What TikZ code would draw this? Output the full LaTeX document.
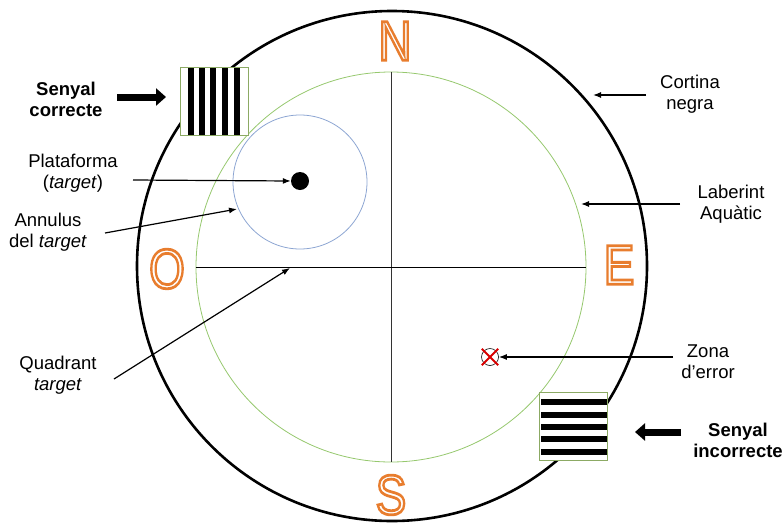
\documentclass[tikz,border=0pt]{standalone}
\usepackage{fontspec}
\setmainfont{Liberation Sans}
\newfontfamily\cardfont{Liberation Sans}
\usepackage{graphicx}
\usetikzlibrary{arrows.meta,calc}
\definecolor{ora}{RGB}{232,125,47}
\definecolor{grn}{RGB}{150,200,110}
\definecolor{blu}{RGB}{140,165,210}
\definecolor{boxg}{RGB}{140,170,100}
\tikzset{
  lbl/.style={align=center,font=\fontsize{18.5}{21}\selectfont,inner sep=0pt},
  blbl/.style={align=center,font=\fontsize{18.5}{21}\selectfont\bfseries,inner sep=0pt},
  arr/.style={line width=1.2pt,-{Latex[length=8pt,width=6pt]}},
  bigarr/.style={line width=7pt,-{Triangle[length=10pt,width=17pt]}},
  cardinal/.style={inner sep=0pt,font=\fontsize{56}{56}\selectfont},
  stripebox/.style={draw=boxg,line width=0.6pt,fill=white,minimum width=68pt,minimum height=68pt,inner sep=0pt}
}
% outlined letter: white fill, orange stroke (text render mode 2)
\newcommand{\card}[1]{\scalebox{0.82}[1]{\special{pdf:bcontent}\textcolor{white}{\special{pdf:literal direct 2 Tr 2.8 w 0.91 0.49 0.18 RG}\cardfont #1\special{pdf:literal direct 0 Tr}}\special{pdf:econtent}}}
\begin{document}
\begin{tikzpicture}[x=1pt,y=-1pt]
\useasboundingbox (0,0) rectangle (783,525);
% outer curtain
\node[circle,draw,line width=2.6pt,minimum size=510pt,inner sep=0pt] (curt) at (392,266) {};
% water maze
\node[circle,draw=grn,line width=0.8pt,minimum size=390pt,inner sep=0pt] (maze) at (391,267) {};
\draw[line width=0.8pt,black!80] (maze.north) -- (maze.south);
\draw[line width=0.8pt] (maze.west) -- (maze.east);
% annulus and platform
\node[circle,draw=blu,line width=0.8pt,minimum size=134pt,inner sep=0pt] (ann) at (300,182) {};
\node[circle,fill=black,minimum size=18pt,inner sep=0pt] (dot) at (300,181) {};
% cardinal letters
\node[cardinal] (N) at (395,41) {\card{N}};
\node[cardinal] (O) at (167,269) {\card{O}};
\node[cardinal] (E) at (619,265) {\card{E}};
\node[cardinal] (S) at (391,495) {\card{S}};
% stripe boxes
\node[stripebox] (good) at (214,101) {};
\foreach \xx in {191,202,213,225,237}
  \fill (\xx-2.8,67.5) rectangle (\xx+2.8,134.5);
\node[stripebox] (bad) at (573.5,426) {};
\foreach \yy in {402,415,427,439,452}
  \fill (540.5,\yy-2.8) rectangle (606.5,\yy+2.8);
% error zone
\node[circle,draw,line width=0.6pt,minimum size=17pt,inner sep=0pt] (err) at (490,357) {};
\draw[red!85!black,line width=1.8pt] ($(err.north west)+(-2,-2)$) -- ($(err.south east)+(2,2)$);
\draw[red!85!black,line width=1.8pt] ($(err.north east)+(2,-2)$) -- ($(err.south west)+(-2,2)$);
% labels
\node[blbl] (lgood) at (66,99) {Senyal\\correcte};
\node[blbl] (lbad) at (738,440) {Senyal\\incorrecte};
\node[lbl] (lcurt) at (690,94) {Cortina\\negra};
\node[lbl] (lmaze) at (731,204) {Laberint\\Aquàtic};
\node[lbl] (lplat) at (73,173) {Plataforma\\(\textit{target})};
\node[lbl] (lann) at (48,232) {Annulus\\del \textit{target}};
\node[lbl] (lquad) at (58,375) {Quadrant\\\textit{target}};
\node[lbl] (lerr) at (708,362) {Zona\\d’error};
% arrow anchor points
\coordinate (aGood1) at (117,97);
\coordinate (aGood2) at (166,97);
\coordinate (aBad1) at (681,432);
\coordinate (aBad2) at (635,432);
\coordinate (aCurt1) at (646,95);
\coordinate (aCurt2) at (593,95);
\coordinate (aMaze1) at (680,204);
\coordinate (aMaze2) at (581,204);
\coordinate (aPlat1) at (133,180);
\coordinate (aAnn1) at (105,233);
\coordinate (aAnn2) at (237,209);
\coordinate (aQuad1) at (114,379);
\coordinate (aQuad2) at (290,268);
\coordinate (aErr1) at (673,357);
% arrows
\draw[bigarr] (aGood1) -- (aGood2);
\draw[bigarr] (aBad1) -- (aBad2);
\draw[arr] (aCurt1) -- (aCurt2);
\draw[arr] (aMaze1) -- (aMaze2);
\draw[arr] (aPlat1) -- (dot.west);
\draw[arr] (aAnn1) -- (aAnn2);
\draw[arr] (aQuad1) -- (aQuad2);
\draw[arr] (aErr1) -- (err.east);
\end{tikzpicture}
\end{document}
